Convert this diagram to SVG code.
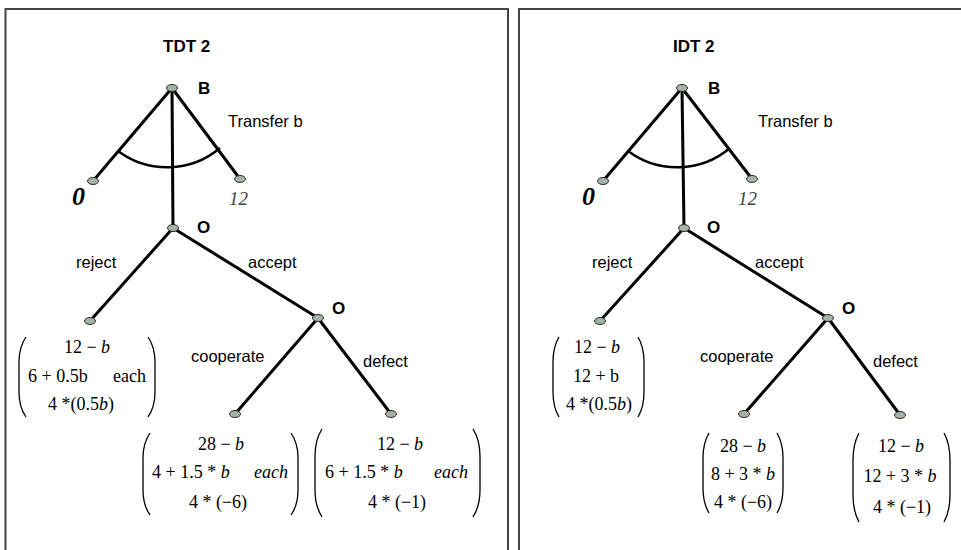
<svg xmlns="http://www.w3.org/2000/svg" width="961" height="550" viewBox="0 0 961 550">
<style>
.frame{fill:none;stroke:#444;stroke-width:2}
.edge{stroke:#000;stroke-width:3;fill:none;stroke-linecap:round}
.arc{stroke:#000;stroke-width:2.5;fill:none}
.dot{fill:#a3b3a5;stroke:#2b2b2b;stroke-width:1}
.title{font-family:"Liberation Sans",Arial,sans-serif;font-weight:bold;font-size:17px;fill:#000}
.pl{font-family:"Liberation Sans",Arial,sans-serif;font-weight:bold;font-size:17px;fill:#000}
.lbl{font-family:"Liberation Sans",Arial,sans-serif;font-size:16.5px;fill:#000}
.zero{font-family:"Liberation Serif","Times New Roman",serif;font-weight:bold;font-style:italic;font-size:26px;fill:#000}
.twelve{font-family:"Liberation Serif","Times New Roman",serif;font-style:italic;font-size:19px;fill:#444}
.pay{font-family:"Liberation Serif","Times New Roman",serif;font-size:18px;fill:#000}
.mid{text-anchor:middle}
.end{text-anchor:end}
.par{fill:none;stroke:#000;stroke-width:1.3}
</style>
<defs>
<ellipse id="node" cx="0" cy="0" rx="5.5" ry="3.5" class="dot"/>
</defs>

<!-- panel frames -->
<path class="frame" d="M5.5,550 V9 H508 V550"/>
<path class="frame" d="M519,550 V9 H961"/>

<!-- ================= LEFT PANEL: TDT 2 ================= -->
<text class="title" x="163" y="52">TDT 2</text>
<g id="tdt-connectors">
  <line class="edge" x1="172" y1="88" x2="93" y2="181"/>
  <line class="edge" x1="172" y1="88" x2="240" y2="179"/>
  <line class="edge" x1="172" y1="88" x2="173" y2="228"/>
  <path class="arc" d="M118,151 A82,82 0 0 0 220,148"/>
  <line class="edge" x1="173" y1="228" x2="90" y2="321"/>
  <line class="edge" x1="173" y1="228" x2="318" y2="318"/>
  <line class="edge" x1="318" y1="318" x2="235" y2="414"/>
  <line class="edge" x1="318" y1="318" x2="391" y2="414"/>
  <text class="lbl" x="228" y="127">Transfer b</text>
  <text class="lbl" x="76" y="268">reject</text>
  <text class="lbl" x="248" y="268">accept</text>
  <text class="lbl" x="191" y="362">cooperate</text>
  <text class="lbl" x="363" y="367">defect</text>
</g>
<g id="tdt-B"><use href="#node" x="172" y="88"/><text class="pl" x="198" y="94">B</text></g>
<g id="tdt-zero"><use href="#node" x="93" y="181"/><text class="zero" x="72" y="205">0</text></g>
<g id="tdt-twelve"><use href="#node" x="240" y="179"/><text class="twelve" x="229" y="205">12</text></g>
<g id="tdt-O"><use href="#node" x="173" y="228"/><text class="pl" x="197" y="233">O</text></g>
<g id="tdt-O2"><use href="#node" x="318" y="318"/><text class="pl" x="332" y="314">O</text></g>
<g id="tdt-reject">
  <use href="#node" x="90" y="321"/>
  <path class="par" d="M26,337 Q19,347 19,362 L19,392 Q19,407 26,417"/>
  <path class="par" d="M148,337 Q155,347 155,362 L155,392 Q155,407 148,417"/>
  <text class="pay mid" x="87" y="353">12 − <tspan font-style="italic">b</tspan></text>
  <text class="pay" x="28" y="382">6 + 0.5b</text>
  <text class="pay end" x="146" y="382">each</text>
  <text class="pay mid" x="81" y="410">4 *(0.5<tspan font-style="italic">b</tspan>)</text>
</g>
<g id="tdt-cooperate">
  <use href="#node" x="235" y="414"/>
  <path class="par" d="M150,433 Q143,443 143,458 L143,490 Q143,505 150,515"/>
  <path class="par" d="M291,433 Q298,443 298,458 L298,490 Q298,505 291,515"/>
  <text class="pay mid" x="221" y="450">28 − <tspan font-style="italic">b</tspan></text>
  <text class="pay" x="152" y="478">4 + 1.5 * <tspan font-style="italic">b</tspan></text>
  <text class="pay end" x="288" y="478" font-style="italic">each</text>
  <text class="pay mid" x="218" y="508">4 * (−6)</text>
</g>
<g id="tdt-defect">
  <use href="#node" x="391" y="414"/>
  <path class="par" d="M322,429 Q315,440 315,456 L315,490 Q315,506 322,517"/>
  <path class="par" d="M473,429 Q480,440 480,456 L480,490 Q480,506 473,517"/>
  <text class="pay mid" x="400" y="450">12 − <tspan font-style="italic">b</tspan></text>
  <text class="pay" x="325" y="478">6 + 1.5 * <tspan font-style="italic">b</tspan></text>
  <text class="pay end" x="468" y="478" font-style="italic">each</text>
  <text class="pay mid" x="397" y="508">4 * (−1)</text>
</g>

<!-- ================= RIGHT PANEL: IDT 2 ================= -->
<text class="title" x="673" y="52">IDT 2</text>
<g id="idt-connectors">
  <line class="edge" x1="682" y1="88" x2="603" y2="181"/>
  <line class="edge" x1="682" y1="88" x2="752" y2="179"/>
  <line class="edge" x1="682" y1="88" x2="684" y2="228"/>
  <path class="arc" d="M628,151 A82,82 0 0 0 730,148"/>
  <line class="edge" x1="684" y1="228" x2="600" y2="321"/>
  <line class="edge" x1="684" y1="228" x2="828" y2="318"/>
  <line class="edge" x1="828" y1="318" x2="744" y2="414"/>
  <line class="edge" x1="828" y1="318" x2="900" y2="415"/>
  <text class="lbl" x="758" y="127">Transfer b</text>
  <text class="lbl" x="592" y="268">reject</text>
  <text class="lbl" x="755" y="268">accept</text>
  <text class="lbl" x="700" y="362">cooperate</text>
  <text class="lbl" x="873" y="367">defect</text>
</g>
<g id="idt-B"><use href="#node" x="682" y="88"/><text class="pl" x="708" y="94">B</text></g>
<g id="idt-zero"><use href="#node" x="603" y="181"/><text class="zero" x="582" y="205">0</text></g>
<g id="idt-twelve"><use href="#node" x="752" y="179"/><text class="twelve" x="738" y="205">12</text></g>
<g id="idt-O"><use href="#node" x="684" y="228"/><text class="pl" x="707" y="233">O</text></g>
<g id="idt-O2"><use href="#node" x="828" y="318"/><text class="pl" x="842" y="314">O</text></g>
<g id="idt-reject">
  <use href="#node" x="600" y="321"/>
  <path class="par" d="M559,337 Q553,347 553,362 L553,392 Q553,407 559,417"/>
  <path class="par" d="M638,337 Q644,347 644,362 L644,392 Q644,407 638,417"/>
  <text class="pay mid" x="597" y="353">12 − <tspan font-style="italic">b</tspan></text>
  <text class="pay mid" x="596" y="382">12 + b</text>
  <text class="pay mid" x="599" y="410">4 *(0.5<tspan font-style="italic">b</tspan>)</text>
</g>
<g id="idt-cooperate">
  <use href="#node" x="744" y="414"/>
  <path class="par" d="M709,433 Q703,443 703,458 L703,488 Q703,503 709,513"/>
  <path class="par" d="M777,433 Q783,443 783,458 L783,488 Q783,503 777,513"/>
  <text class="pay mid" x="743" y="452">28 − <tspan font-style="italic">b</tspan></text>
  <text class="pay mid" x="743" y="480">8 + 3 * <tspan font-style="italic">b</tspan></text>
  <text class="pay mid" x="743" y="508">4 * (−6)</text>
</g>
<g id="idt-defect">
  <use href="#node" x="900" y="415"/>
  <path class="par" d="M859,433 Q853,444 853,460 L853,495 Q853,511 859,522"/>
  <path class="par" d="M944,433 Q950,444 950,460 L950,495 Q950,511 944,522"/>
  <text class="pay mid" x="901" y="452">12 − <tspan font-style="italic">b</tspan></text>
  <text class="pay mid" x="900" y="482">12 + 3 * <tspan font-style="italic">b</tspan></text>
  <text class="pay mid" x="902" y="513">4 * (−1)</text>
</g>
</svg>
